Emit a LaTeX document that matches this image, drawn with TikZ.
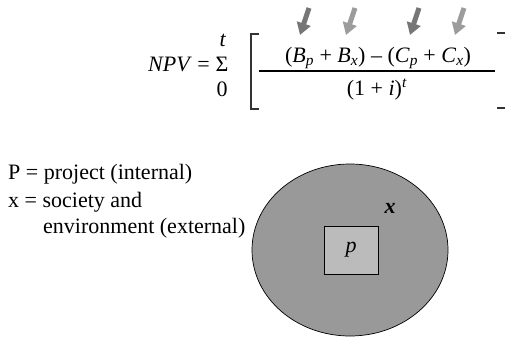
\documentclass[tikz,border=0pt]{standalone}
\usepackage{fontspec}
\setmainfont{Liberation Serif}
\usetikzlibrary{arrows.meta}
\definecolor{arrdark}{HTML}{767676}
\definecolor{arrlight}{HTML}{9C9C9C}
\definecolor{outerfill}{HTML}{999999}
\definecolor{innerfill}{HTML}{BBBBBB}
\newcommand{\sbit}[1]{\textsubscript{\textit{#1}}}
\tikzset{
  txt/.style={inner sep=0pt, font=\fontsize{22}{28}\selectfont},
  bigarrow/.style={line width=5pt, -{Triangle[width=14pt,length=12pt]}},
  bracketline/.style={line width=1.3pt, black!80},
}
\begin{document}
\begin{tikzpicture}[x=1pt,y=-1pt]
\useasboundingbox (0,0) rectangle (505,337);
% formula
\node[txt, anchor=base west] (npv) at (148,71) {\textit{NPV} =};
\node[txt, anchor=base] (sig) at (222,71) {Σ};
\node[txt, anchor=base] (tup) at (223,46) {\textit{t}};
\node[txt, anchor=base] (zero) at (222,96) {0};
\node[txt, anchor=base] (num) at (378,62) {(\textit{B}\sbit{p} + \textit{B}\sbit{x}) – (\textit{C}\sbit{p} + \textit{C}\sbit{x})};
\node[txt, anchor=base] (den) at (377,95) {(1 + \textit{i})\textsuperscript{\textit{t}}};
\coordinate (fl) at (259,71);
\coordinate (fr) at (495,71);
\draw[line width=1.5pt] (fl) -- (fr);
% brackets
\coordinate (lbt) at (259,34);
\coordinate (lbb) at (259,109);
\draw[bracketline] (lbt) -- ++(-8,0) |- (lbb);
\coordinate (rbt) at (497,33);
\coordinate (rbb) at (497,108);
\draw[bracketline] (rbt) -- ++(8,0);
\draw[bracketline] (rbb) -- ++(8,0);
% arrows
\coordinate (a1s) at (309,8);  \coordinate (a1e) at (300,35);
\coordinate (a2s) at (355,8);  \coordinate (a2e) at (346,35);
\coordinate (a3s) at (419,8);  \coordinate (a3e) at (410,35);
\coordinate (a4s) at (464,8);  \coordinate (a4e) at (455,35);
\draw[bigarrow, arrdark] (a1s) -- (a1e);
\draw[bigarrow, arrlight] (a2s) -- (a2e);
\draw[bigarrow, arrdark] (a3s) -- (a3e);
\draw[bigarrow, arrlight] (a4s) -- (a4e);
% legend
\node[txt, anchor=base west] (l1) at (8,179) {P = project (internal)};
\node[txt, anchor=base west] (l2) at (8,207) {x = society and};
\node[txt, anchor=base west] (l3) at (43,233) {environment (external)};
% diagram
\draw[fill=outerfill, line width=0.7pt] (350,250) ellipse [x radius=98, y radius=86];
\node[draw, line width=0.9pt, fill=innerfill, minimum width=54pt, minimum height=48pt, inner sep=0pt] (p) at (351,250) {};
\node[txt] (plab) at (p.center) {\textit{p}};
\node[txt] (xlab) at (390,208) {\textbf{\textit{x}}};
\end{tikzpicture}
\end{document}
